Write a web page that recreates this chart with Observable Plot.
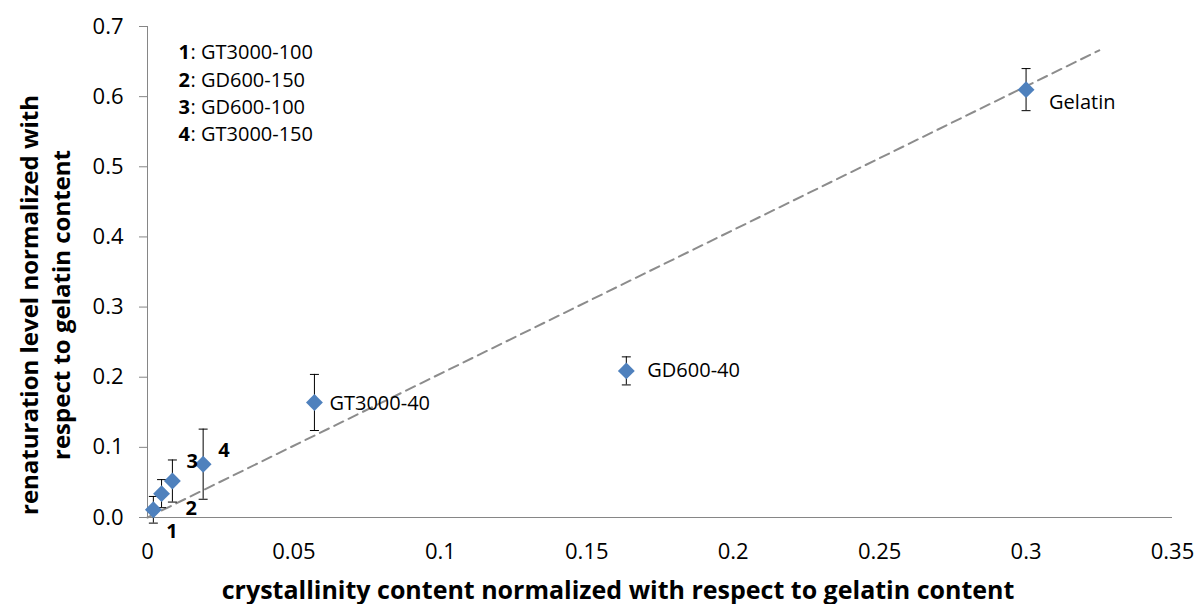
<!DOCTYPE html>
<html><head><meta charset="utf-8">
<script src="https://cdn.jsdelivr.net/npm/d3@7"></script>
<script src="https://cdn.jsdelivr.net/npm/@observablehq/plot@0.6"></script>
<style>
html,body{margin:0;padding:0;background:#fff;}
#chart{width:1196px;height:604px;}
svg{font-family:"Open Sans",sans-serif;}
</style></head><body><div id="chart"></div>
<script>
// ---- data ----
const sampleNames = ["GT3000-100","GD600-150","GD600-100","GT3000-150","GT3000-40","GD600-40","Gelatin"];
const pointLabels = ["1","2","3","4","GT3000-40","GD600-40","Gelatin"];
const crystallinity = [0.002, 0.0048, 0.0085, 0.019, 0.057, 0.1635, 0.300];
const renaturation = [0.011, 0.034, 0.052, 0.076, 0.164, 0.209, 0.610];
const renaturationError = [0.019, 0.020, 0.030, 0.050, 0.040, 0.020, 0.030];
const trendX = [0, 0.325];
const trendY = [0, 0.666];
const xTicks = [0, 0.05, 0.1, 0.15, 0.2, 0.25, 0.3, 0.35];
const xTickLabels = ["0","0.05","0.1","0.15","0.2","0.25","0.3","0.35"];
const yTicks = [0, 0.1, 0.2, 0.3, 0.4, 0.5, 0.6, 0.7];
const yTickLabels = ["0.0","0.1","0.2","0.3","0.4","0.5","0.6","0.7"];
const legendNumbers = ["1","2","3","4"];
const legendNames = ["GT3000-100","GD600-150","GD600-100","GT3000-150"];
const xTitle = "crystallinity content normalized with respect to gelatin content";
const yTitle = ["renaturation level normalized with", "respect to gelatin content"];

// ---- build ----
const idx = d3.range(crystallinity.length);
const trend = trendX.map((x, i) => ({x, y: trendY[i]}));
const capSymbol = {draw(ctx) { ctx.moveTo(-4.5, 0); ctx.lineTo(4.5, 0); }};
// label placement (pixels, relative to point)
const labelPlacement = [
  {dx: 13, dy: 22, bold: true},
  {dx: 24, dy: 15, bold: true},
  {dx: 14, dy: -19, bold: true},
  {dx: 15, dy: -14, bold: true},
  {dx: 15, dy: 1, bold: false},
  {dx: 21, dy: 0, bold: false},
  {dx: 23, dy: 13, bold: false}
];
const FONT = "Open Sans";
const labelMarks = idx.map(i => Plot.text([i], {
  x: j => crystallinity[j], y: j => renaturation[j], text: j => pointLabels[j],
  dx: labelPlacement[i].dx, dy: labelPlacement[i].dy, textAnchor: "start",
  fontSize: 20, fontWeight: labelPlacement[i].bold ? "bold" : "normal", fill: "#000"
}));

const chart = Plot.plot({
  width: 1196, height: 604,
  marginLeft: 147, marginRight: 24, marginTop: 26, marginBottom: 87,
  style: {fontFamily: FONT, background: "#fff", overflow: "visible"},
  x: {domain: [0, 0.35]},
  y: {domain: [0, 0.7]},
  marks: [
    Plot.axisY(yTicks, {tickSize: 8, tickPadding: 16, stroke: "#868686", fill: "#000", fontSize: 22, tickFormat: (d, i) => yTickLabels[i], label: null}),
    Plot.axisX(xTicks, {tickSize: 0, tickPadding: 26, fill: "#000", fontSize: 22, tickFormat: (d, i) => xTickLabels[i], label: null}),
    Plot.ruleY([0], {stroke: "#868686", strokeWidth: 1}),
    Plot.ruleX([0], {stroke: "#868686", strokeWidth: 1}),
    Plot.line(trend, {x: "x", y: "y", stroke: "#8c8c8c", strokeWidth: 2, strokeDasharray: "10,6"}),
    Plot.ruleX(idx, {x: i => crystallinity[i], y1: i => renaturation[i] - renaturationError[i], y2: i => renaturation[i] + renaturationError[i], stroke: "#000", strokeWidth: 1}),
    Plot.dot(idx, {x: i => crystallinity[i], y: i => renaturation[i] + renaturationError[i], symbol: capSymbol, r: 3, stroke: "#000", strokeWidth: 1}),
    Plot.dot(idx, {x: i => crystallinity[i], y: i => renaturation[i] - renaturationError[i], symbol: capSymbol, r: 3, stroke: "#000", strokeWidth: 1}),
    Plot.dot(idx, {x: i => crystallinity[i], y: i => renaturation[i], symbol: "diamond2", r: 7.6, fill: "#4F81BD", stroke: "none"}),
    ...labelMarks,
    Plot.text([legendNumbers.join("\n")], {frameAnchor: "top-left", dx: 31, dy: 65, lineAnchor: "middle", lineHeight: 1.37, textAnchor: "start", fontSize: 20, fontWeight: "bold", fill: "#000"}),
    Plot.text([legendNames.map(n => ": " + n).join("\n")], {frameAnchor: "top-left", dx: 43, dy: 65, lineAnchor: "middle", lineHeight: 1.37, textAnchor: "start", fontSize: 20, fill: "#000"}),
    Plot.text([xTitle], {frameAnchor: "bottom", dx: -42, dy: 73, lineAnchor: "middle", textAnchor: "middle", fontSize: 25, fontWeight: "bold", fill: "#000"}),
    Plot.text([yTitle.join("\n")], {frameAnchor: "left", dx: -104, dy: 33, rotate: -90, lineAnchor: "middle", textAnchor: "middle", lineHeight: 1.33, fontSize: 24, fontWeight: "bold", fill: "#000"})
  ]
});
document.getElementById("chart").appendChild(chart);
</script>
</body></html>
